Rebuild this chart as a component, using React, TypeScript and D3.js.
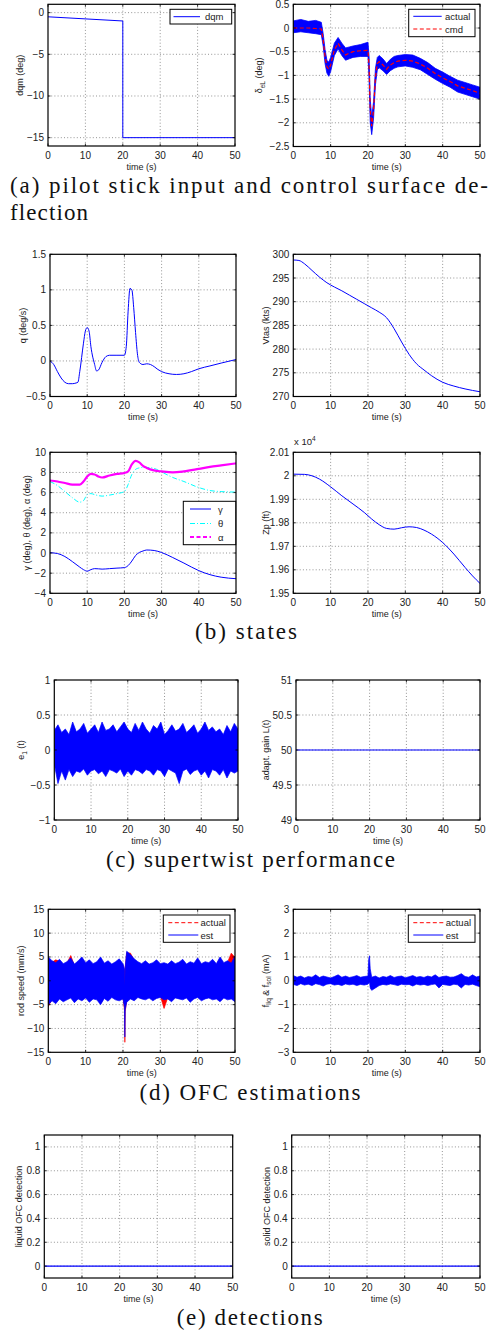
import React from "react";
import * as d3 from "d3";

// ---- shared axis data ----
const timeTicks = [0, 10, 20, 30, 40, 50];

// (a) pilot stick input
const dqmT = [0, 20, 20, 50];
const dqmV = [-0.5, -1.0, -15, -15];

// (a) control surface deflection (cmd + envelope of noisy actual)
const deltaT = [0, 2, 4, 6, 7.5, 8, 8.5, 9, 9.5, 10, 11, 12, 13, 14, 15, 16, 18, 20, 20.3, 20.6, 21, 21.5, 22, 22.5, 23, 24, 25, 26, 27, 28, 30, 32, 34, 36, 38, 40, 42, 44, 46, 48, 50];
const deltaCmd = [0, 0, 0, -0.01, -0.02, -0.25, -0.6, -0.82, -0.87, -0.78, -0.46, -0.32, -0.46, -0.57, -0.53, -0.5, -0.48, -0.47, -0.82, -1.73, -2.07, -1.73, -1.03, -0.75, -0.71, -0.78, -0.87, -0.78, -0.73, -0.7, -0.68, -0.7, -0.76, -0.85, -0.96, -1.05, -1.13, -1.22, -1.27, -1.32, -1.38];
const deltaActHi = [0.15, 0.18, 0.14, 0.16, 0.12, -0.12, -0.45, -0.68, -0.72, -0.62, -0.32, -0.2, -0.32, -0.42, -0.4, -0.38, -0.35, -0.3, -0.6, -1.5, -1.88, -1.55, -0.85, -0.62, -0.58, -0.65, -0.75, -0.66, -0.6, -0.58, -0.56, -0.57, -0.64, -0.73, -0.85, -0.93, -1.02, -1.1, -1.15, -1.2, -1.25];
const deltaActLo = [-0.1, -0.08, -0.1, -0.12, -0.14, -0.38, -0.75, -0.95, -1.02, -0.92, -0.58, -0.44, -0.58, -0.68, -0.65, -0.62, -0.6, -0.6, -1.1, -2.0, -2.25, -1.9, -1.2, -0.88, -0.84, -0.9, -0.98, -0.9, -0.85, -0.82, -0.8, -0.83, -0.88, -0.98, -1.08, -1.17, -1.25, -1.35, -1.4, -1.45, -1.5];

// (b) states
const qT = [0, 1, 2, 3, 4, 5, 6, 7, 7.5, 8, 9, 9.5, 10, 10.5, 11, 12, 12.5, 13, 14, 15, 16, 18, 20, 20.5, 21, 21.5, 22, 22.5, 23, 23.5, 24, 25, 26, 27, 28, 29, 30, 32, 34, 36, 38, 40, 43, 46, 50];
const qV = [0, -0.05, -0.15, -0.24, -0.3, -0.32, -0.32, -0.31, -0.3, -0.15, 0.25, 0.42, 0.47, 0.42, 0.2, -0.05, -0.14, -0.13, -0.02, 0.06, 0.08, 0.08, 0.08, 0.2, 0.7, 1.02, 1.0, 0.75, 0.4, 0.1, -0.02, -0.05, -0.04, -0.05, -0.08, -0.12, -0.15, -0.18, -0.19, -0.18, -0.15, -0.11, -0.07, -0.03, 0.02];

const vtasT = [0, 1.5, 3, 5, 7, 9, 11, 13, 15, 17, 19, 21, 23, 25, 27, 29, 31, 33, 35, 37, 40, 43, 46, 50];
const vtasV = [298.8, 298.7, 298.0, 296.6, 295.2, 294.0, 293.1, 292.3, 291.4, 290.5, 289.6, 288.7, 287.8, 286.6, 284.3, 281.5, 278.9, 276.9, 275.6, 274.4, 273.0, 272.2, 271.6, 271.0];

const angT = [0, 2, 4, 6, 8, 9, 10, 11, 12, 13, 14, 16, 18, 20, 21, 22, 23, 24, 25, 26, 28, 30, 33, 36, 40, 43, 46, 50];
const alphaV = [7.2, 7.1, 6.95, 6.8, 6.8, 7.1, 7.6, 7.85, 7.8, 7.6, 7.5, 7.7, 7.85, 7.95, 8.1, 8.8, 9.15, 9.0, 8.65, 8.45, 8.2, 8.1, 8.0, 8.1, 8.35, 8.55, 8.7, 8.9];
const thetaV = [7.1, 6.7, 6.1, 5.5, 5.05, 5.2, 5.8, 5.9, 5.8, 5.7, 5.65, 5.75, 5.9, 6.1, 6.8, 7.8, 8.3, 8.45, 8.5, 8.5, 8.4, 8.05, 7.5, 7.1, 6.5, 6.2, 6.1, 6.05];
const gammaV = [0.03, -0.05, -0.35, -0.85, -1.4, -1.65, -1.8, -1.65, -1.55, -1.57, -1.6, -1.55, -1.5, -1.45, -1.25, -0.8, -0.25, 0.05, 0.2, 0.3, 0.25, 0.05, -0.45, -1.0, -1.75, -2.15, -2.4, -2.55];

const zpT = [0, 3, 5, 7, 10, 13, 16, 19, 21, 23, 25, 27, 29, 31, 33, 35, 37, 40, 43, 46, 48, 50];
const zpV = [20007, 20006, 20000, 19986, 19953, 19915, 19880, 19844, 19816, 19792, 19776, 19773, 19779, 19783, 19780, 19769, 19752, 19716, 19667, 19610, 19574, 19542];
const zpTicks = [19500, 19600, 19700, 19800, 19900, 20000, 20100];
const zpTickLabels = ["1.95", "1.96", "1.97", "1.98", "1.99", "2", "2.01"];

// (c) supertwist: envelope of e1 noise, sampled every second
const e1T = d3.range(0, 51);
const e1Hi = [0.28, 0.36, 0.25, 0.3, 0.22, 0.4, 0.26, 0.3, 0.38, 0.24,
  0.3, 0.36, 0.25, 0.4, 0.28, 0.3, 0.36, 0.26, 0.33, 0.4,
  0.3, 0.25, 0.38, 0.28, 0.4, 0.3, 0.24, 0.35, 0.3, 0.4,
  0.22, 0.28, 0.36, 0.27, 0.3, 0.38, 0.25, 0.3, 0.36, 0.24,
  0.3, 0.4, 0.28, 0.33, 0.26, 0.3, 0.22, 0.35, 0.26, 0.38, 0.3];
const e1Lo = [-0.2, -0.48, -0.3, -0.43, -0.28, -0.38, -0.3, -0.32, -0.27, -0.36,
  -0.3, -0.28, -0.34, -0.3, -0.38, -0.28, -0.3, -0.33, -0.27, -0.38,
  -0.3, -0.36, -0.28, -0.3, -0.34, -0.28, -0.3, -0.36, -0.28, -0.3,
  -0.38, -0.27, -0.3, -0.33, -0.48, -0.3, -0.27, -0.35, -0.3, -0.28,
  -0.36, -0.3, -0.4, -0.28, -0.3, -0.36, -0.28, -0.4, -0.3, -0.33, -0.3];
const gainT = [0, 50];
const gainV = [50, 50];

// (d) OFC estimations
const rodT = d3.range(0, 21).concat([20.4, 20.5, 20.6], d3.range(21, 51));
const rodEstHi = [5.0, 4.2, 3.8, 4.5, 3.6, 4.0, 4.8, 3.5, 4.2, 5.0, 3.8, 4.4, 3.6, 4.0, 5.0, 3.7, 4.2, 3.5, 4.0, 4.6, 3.6,
  2.5, -1.0, 3.0,
  6.2, 5.5, 4.6, 4.0, 3.6, 4.2, 3.5, 3.8, 4.4, 3.6, 3.8, 3.5, 4.2, 3.6, 3.9, 4.5, 3.5, 4.0, 3.7, 4.8, 3.6, 4.0, 3.8, 4.5, 3.6, 5.0, 3.8, 4.2, 3.7, 5.2];
const rodEstLo = [-5.0, -4.2, -4.8, -3.8, -4.4, -4.0, -3.6, -4.6, -3.8, -4.2, -3.6, -4.5, -3.8, -4.0, -5.0, -3.7, -4.3, -3.5, -4.0, -4.2, -3.8,
  -5.5, -11.8, -6.0,
  -4.5, -3.8, -4.2, -3.5, -3.8, -4.0, -3.6, -4.2, -3.7, -3.5, -4.0, -3.8, -4.4, -3.6, -3.8, -4.0, -3.6, -4.5, -3.8, -3.5, -4.2, -3.8, -3.6, -4.0, -3.8, -4.4, -3.6, -4.0, -3.8, -4.4];
const rodActHi = [4.6, 3.9, 4.4, 4.1, 3.3, 3.7, 5.3, 3.2, 3.9, 4.7, 3.5, 4.1, 3.3, 3.7, 4.7, 3.4, 3.9, 3.2, 3.7, 4.3, 3.3,
  2.2, -1.3, 2.7,
  5.9, 5.8, 4.3, 3.7, 3.3, 3.9, 3.2, 3.5, 4.1, 3.3, 3.5, 3.2, 3.9, 3.3, 3.6, 4.2, 3.2, 3.7, 3.4, 4.5, 3.3, 3.7, 3.5, 4.2, 3.3, 4.7, 3.5, 3.9, 5.8, 4.9];
const rodActLo = [-5.4, -3.9, -4.5, -3.5, -4.1, -3.7, -3.3, -4.3, -3.5, -3.9, -3.3, -4.2, -3.5, -3.7, -4.7, -3.4, -4.0, -3.2, -3.7, -3.9, -3.5,
  -6.0, -12.9, -6.4,
  -4.2, -3.5, -3.9, -3.2, -3.5, -3.7, -3.3, -3.9, -3.4, -3.2, -5.8, -3.5, -4.1, -3.3, -3.5, -3.7, -3.3, -4.2, -3.5, -3.2, -3.9, -3.5, -3.3, -3.7, -3.5, -4.1, -3.3, -3.7, -3.5, -4.1];

const fT = d3.range(0, 21).concat([20.2, 20.4, 20.6], d3.range(21, 51));
const fHi = [0.22, 0.15, 0.2, 0.12, 0.18, 0.15, 0.25, 0.14, 0.2, 0.16, 0.12, 0.18, 0.25, 0.15, 0.2, 0.14, 0.17, 0.22, 0.15, 0.18, 0.2,
  0.9, 1.05, 0.5,
  0.15, 0.2, 0.12, 0.18, 0.15, 0.22, 0.14, 0.18, 0.2, 0.13, 0.17, 0.22, 0.15, 0.18, 0.14, 0.2, 0.16, 0.25, 0.14, 0.18, 0.2, 0.15, 0.16, 0.22, 0.3, 0.18, 0.15, 0.25, 0.16, 0.2];
const fLo = [-0.15, -0.2, -0.12, -0.18, -0.14, -0.2, -0.12, -0.16, -0.22, -0.14, -0.12, -0.18, -0.15, -0.2, -0.13, -0.17, -0.14, -0.2, -0.15, -0.18, -0.14,
  -0.1, -0.05, -0.3,
  -0.4, -0.3, -0.2, -0.15, -0.18, -0.13, -0.16, -0.2, -0.14, -0.17, -0.15, -0.22, -0.14, -0.18, -0.15, -0.2, -0.16, -0.13, -0.3, -0.15, -0.18, -0.2, -0.14, -0.17, -0.3, -0.15, -0.18, -0.14, -0.2, -0.25];

// (e) detections
const detT = [0, 50];
const liqDet = [0, 0];
const solDet = [0, 0];
const detTicks = [0, 0.2, 0.4, 0.6, 0.8, 1];

const SANS = "'Liberation Sans', Arial, Helvetica, sans-serif";
const SERIF = "'Liberation Serif', 'Times New Roman', serif";
const BLUE = "#0000ff";
const RED = "#ff0000";

type Box = { x0: number; x1: number; y0: number; y1: number };
type Sc = d3.ScaleLinear<number, number>;

const fmt = (v: number) => String(v).replace("-", "\u2212");

function linePath(ts: number[], vs: number[], x: Sc, y: Sc, curve: d3.CurveFactory = d3.curveLinear) {
  return d3.line<number>().x((_, i) => x(ts[i])).y((d) => y(d)).curve(curve)(vs) || "";
}
function bandPath(ts: number[], lo: number[], hi: number[], x: Sc, y: Sc) {
  return d3.area<number>().x((_, i) => x(ts[i])).y0((_, i) => y(lo[i])).y1((d) => y(d))(hi) || "";
}

function Panel(props: {
  id: string;
  box: Box;
  yDomain: [number, number];
  yTicks: number[];
  yTickLabels?: string[];
  yLabel: React.ReactNode;
  yLabelX: number;
  children: (x: Sc, y: Sc) => React.ReactNode;
  overlay?: React.ReactNode;
}) {
  const { id, box, yDomain, yTicks, yTickLabels, yLabel, yLabelX, children, overlay } = props;
  const x = d3.scaleLinear().domain([0, 50]).range([box.x0, box.x1]);
  const y = d3.scaleLinear().domain(yDomain).range([box.y1, box.y0]);
  const w = box.x1 - box.x0;
  const h = box.y1 - box.y0;
  const midX = (box.x0 + box.x1) / 2;
  const midY = (box.y0 + box.y1) / 2;
  const inner = (v: number, a: number, b: number) => v > Math.min(a, b) + 0.8 && v < Math.max(a, b) - 0.8;
  return (
    <g>
      <defs>
        <clipPath id={id}>
          <rect x={box.x0} y={box.y0} width={w} height={h} />
        </clipPath>
      </defs>
      <rect x={box.x0} y={box.y0} width={w} height={h} fill="#fff" />
      {timeTicks.filter((t) => inner(x(t), box.x0, box.x1)).map((t) => (
        <line key={"gx" + t} x1={x(t)} x2={x(t)} y1={box.y0} y2={box.y1} stroke="#7a7a7a" strokeWidth={0.8} strokeDasharray="1,2.2" />
      ))}
      {yTicks.filter((v) => inner(y(v), box.y0, box.y1)).map((v) => (
        <line key={"gy" + v} x1={box.x0} x2={box.x1} y1={y(v)} y2={y(v)} stroke="#7a7a7a" strokeWidth={0.8} strokeDasharray="1,2.2" />
      ))}
      <g clipPath={`url(#${id})`}>{children(x, y)}</g>
      {timeTicks.map((t) => (
        <g key={"tx" + t}>
          <line x1={x(t)} x2={x(t)} y1={box.y1} y2={box.y1 - 2.5} stroke="#000" strokeWidth={0.8} />
          <line x1={x(t)} x2={x(t)} y1={box.y0} y2={box.y0 + 2.5} stroke="#000" strokeWidth={0.8} />
          <text x={x(t)} y={box.y1 + 12.5} fontSize={10} fontFamily={SANS} textAnchor="middle" fill="#222">{t}</text>
        </g>
      ))}
      {yTicks.map((v, i) => (
        <g key={"ty" + v}>
          <line x1={box.x0} x2={box.x0 + 2.5} y1={y(v)} y2={y(v)} stroke="#000" strokeWidth={0.8} />
          <line x1={box.x1} x2={box.x1 - 2.5} y1={y(v)} y2={y(v)} stroke="#000" strokeWidth={0.8} />
          <text x={box.x0 - 4} y={y(v) + 3.5} fontSize={10} fontFamily={SANS} textAnchor="end" fill="#222">
            {yTickLabels ? yTickLabels[i] : fmt(v)}
          </text>
        </g>
      ))}
      <rect x={box.x0} y={box.y0} width={w} height={h} fill="none" stroke="#000" strokeWidth={1.2} />
      {overlay}
      <text x={midX} y={box.y1 + 23.5} fontSize={9} fontFamily={SANS} textAnchor="middle" fill="#222">time (s)</text>
      <text transform={`translate(${yLabelX},${midY}) rotate(-90)`} fontSize={9} fontFamily={SANS} textAnchor="middle" fill="#222">
        {yLabel}
      </text>
    </g>
  );
}

type LegendItem = { label: React.ReactNode; color: string; dash?: string; width?: number };
function Legend({ box, items, lineX0, lineX1, textX, rowY }: { box: Box; items: LegendItem[]; lineX0: number; lineX1: number; textX: number; rowY: number[] }) {
  return (
    <g>
      <rect x={box.x0} y={box.y0} width={box.x1 - box.x0} height={box.y1 - box.y0} fill="#fff" stroke="#000" strokeWidth={1} />
      {items.map((it, i) => (
        <g key={i}>
          <line x1={lineX0} x2={lineX1} y1={rowY[i]} y2={rowY[i]} stroke={it.color} strokeWidth={it.width || 1} strokeDasharray={it.dash} />
          <text x={textX} y={rowY[i] + 3.5} fontSize={9.5} fontFamily={SANS} fill="#222">{it.label}</text>
        </g>
      ))}
    </g>
  );
}

function Caption({ x, y, w, anchor, children }: { x: number; y: number; w: number; anchor: "start" | "middle"; children: string }) {
  return (
    <text x={x} y={y} fontSize={23} fontFamily={SERIF} textAnchor={anchor} textLength={w} lengthAdjust="spacing" fill="#111">
      {children}
    </text>
  );
}

export default function App() {
  const boxA1 = { x0: 48, x1: 235, y0: 4.3, y1: 146 };
  const boxA2 = { x0: 293.3, x1: 480, y0: 4.3, y1: 146.5 };
  const boxB1 = { x0: 50, x1: 236, y0: 254.3, y1: 396.5 };
  const boxB2 = { x0: 293.3, x1: 480, y0: 254.3, y1: 396.5 };
  const boxB3 = { x0: 50, x1: 236, y0: 452.3, y1: 593.3 };
  const boxB4 = { x0: 293.3, x1: 480, y0: 452.3, y1: 593.3 };
  const boxC1 = { x0: 54.3, x1: 238, y0: 680, y1: 820 };
  const boxC2 = { x0: 296, x1: 480, y0: 680, y1: 820 };
  const boxD1 = { x0: 48.3, x1: 235, y0: 909.3, y1: 1052.3 };
  const boxD2 = { x0: 293.3, x1: 480, y0: 909.3, y1: 1052.3 };
  const boxE1 = { x0: 44.3, x1: 232.7, y0: 1135, y1: 1278 };
  const boxE2 = { x0: 291.7, x1: 480, y0: 1135, y1: 1278 };

  return (
    <div style={{ position: "absolute", left: 0, top: 0, background: "#fff" }}>
      <svg width={494} height={1331} viewBox="0 0 494 1331">
        <rect width={494} height={1331} fill="#fff" />

        {/* (a) */}
        <Panel id="cA1" box={boxA1} yDomain={[-16, 1]} yTicks={[-15, -10, -5, 0]} yLabel="dqm (deg)" yLabelX={22.5}
          overlay={<Legend box={{ x0: 170, x1: 231.7, y0: 9.3, y1: 24 }} items={[{ label: "dqm", color: BLUE }]} lineX0={173.5} lineX1={200} textX={205} rowY={[16.7]} />}>
          {(x, y) => <path d={linePath(dqmT, dqmV, x, y)} fill="none" stroke={BLUE} strokeWidth={1} />}
        </Panel>
        <Panel id="cA2" box={boxA2} yDomain={[-2.5, 0.5]} yTicks={[-2.5, -2, -1.5, -1, -0.5, 0, 0.5]}
          yLabel={<><tspan>δ</tspan><tspan dy={2.5} fontSize={6.5}>eL</tspan><tspan dy={-2.5}> (deg)</tspan></>} yLabelX={262}
          overlay={<Legend box={{ x0: 408.7, x1: 475, y0: 9.3, y1: 36.7 }} items={[{ label: "actual", color: BLUE }, { label: "cmd", color: RED, dash: "4,2.5" }]} lineX0={413.3} lineX1={441.7} textX={445} rowY={[16.3, 29]} />}>
          {(x, y) => (
            <g>
              <path d={bandPath(deltaT, deltaActLo, deltaActHi, x, y)} fill={BLUE} stroke={BLUE} strokeWidth={0.8} />
              <path d={linePath(deltaT, deltaCmd, x, y)} fill="none" stroke={RED} strokeWidth={1.2} strokeDasharray="4,2.5" />
            </g>
          )}
        </Panel>
        <Caption x={10} y={193} w={478} anchor="start">(a) pilot stick input and control surface de-</Caption>
        <Caption x={10} y={219.5} w={78} anchor="start">flection</Caption>

        {/* (b) */}
        <Panel id="cB1" box={boxB1} yDomain={[-0.5, 1.5]} yTicks={[-0.5, 0, 0.5, 1, 1.5]} yLabel="q (deg/s)" yLabelX={25.5}>
          {(x, y) => <path d={linePath(qT, qV, x, y, d3.curveMonotoneX)} fill="none" stroke={BLUE} strokeWidth={1} />}
        </Panel>
        <Panel id="cB2" box={boxB2} yDomain={[270, 300]} yTicks={[270, 275, 280, 285, 290, 295, 300]} yLabel="Vtas (kts)" yLabelX={268.5}>
          {(x, y) => <path d={linePath(vtasT, vtasV, x, y, d3.curveMonotoneX)} fill="none" stroke={BLUE} strokeWidth={1} />}
        </Panel>
        <Panel id="cB3" box={boxB3} yDomain={[-4, 10]} yTicks={[-4, -2, 0, 2, 4, 6, 8, 10]} yLabel="γ (deg), θ (deg), α (deg)" yLabelX={29.5}
          overlay={<Legend box={{ x0: 183.3, x1: 235.7, y0: 501.3, y1: 544.7 }}
            items={[{ label: "γ", color: BLUE }, { label: "θ", color: "#00ffff", dash: "5,2,1,2" }, { label: "α", color: "#ff00ff", dash: "4,2.5", width: 2 }]}
            lineX0={190} lineX1={211} textX={218} rowY={[509, 523.5, 537]} />}>
          {(x, y) => (
            <g>
              <path d={linePath(angT, gammaV, x, y, d3.curveMonotoneX)} fill="none" stroke={BLUE} strokeWidth={1} />
              <path d={linePath(angT, thetaV, x, y, d3.curveMonotoneX)} fill="none" stroke="#00ffff" strokeWidth={1} strokeDasharray="5,2,1,2" />
              <path d={linePath(angT, alphaV, x, y, d3.curveMonotoneX)} fill="none" stroke="#ff00ff" strokeWidth={2.2} />
            </g>
          )}
        </Panel>
        <Panel id="cB4" box={boxB4} yDomain={[19500, 20100]} yTicks={zpTicks} yTickLabels={zpTickLabels} yLabel="Zp (ft)" yLabelX={268.5}
          overlay={<text x={294} y={445} fontSize={9.5} fontFamily={SANS} fill="#222">x 10<tspan dy={-4} fontSize={6.5}>4</tspan></text>}>
          {(x, y) => <path d={linePath(zpT, zpV, x, y, d3.curveMonotoneX)} fill="none" stroke={BLUE} strokeWidth={1} />}
        </Panel>
        <Caption x={246} y={638.5} w={102} anchor="middle">(b) states</Caption>

        {/* (c) */}
        <Panel id="cC1" box={boxC1} yDomain={[-1, 1]} yTicks={[-1, -0.5, 0, 0.5, 1]}
          yLabel={<><tspan>e</tspan><tspan dy={2.5} fontSize={6.5}>1</tspan><tspan dy={-2.5}> (t)</tspan></>} yLabelX={24}>
          {(x, y) => <path d={bandPath(e1T, e1Lo, e1Hi, x, y)} fill={BLUE} stroke={BLUE} strokeWidth={0.7} />}
        </Panel>
        <Panel id="cC2" box={boxC2} yDomain={[49, 51]} yTicks={[49, 49.5, 50, 50.5, 51]} yLabel="adapt. gain L(t)" yLabelX={268.5}>
          {(x, y) => <path d={linePath(gainT, gainV, x, y)} fill="none" stroke={BLUE} strokeWidth={1.2} />}
        </Panel>
        <Caption x={250.5} y={866.5} w={289} anchor="middle">(c) supertwist performance</Caption>

        {/* (d) */}
        <Panel id="cD1" box={boxD1} yDomain={[-15, 15]} yTicks={[-15, -10, -5, 0, 5, 10, 15]} yLabel="rod speed (mm/s)" yLabelX={24}
          overlay={<Legend box={{ x0: 163.3, x1: 230, y0: 915, y1: 942.3 }} items={[{ label: "actual", color: RED, dash: "4,2.5" }, { label: "est", color: BLUE }]} lineX0={168.3} lineX1={198.3} textX={200.5} rowY={[922.7, 935]} />}>
          {(x, y) => (
            <g>
              <path d={bandPath(rodT, rodActLo, rodActHi, x, y)} fill={RED} stroke={RED} strokeWidth={0.7} />
              <path d={bandPath(rodT, rodEstLo, rodEstHi, x, y)} fill={BLUE} stroke={BLUE} strokeWidth={0.7} />
            </g>
          )}
        </Panel>
        <Panel id="cD2" box={boxD2} yDomain={[-3, 3]} yTicks={[-3, -2, -1, 0, 1, 2, 3]}
          yLabel={<><tspan>f</tspan><tspan dy={2.5} fontSize={6.5}>liq</tspan><tspan dy={-2.5}> &amp; f</tspan><tspan dy={2.5} fontSize={6.5}>sol</tspan><tspan dy={-2.5}> (mA)</tspan></>} yLabelX={268.5}
          overlay={<Legend box={{ x0: 408.3, x1: 475, y0: 915, y1: 942.3 }} items={[{ label: "actual", color: RED, dash: "4,2.5" }, { label: "est", color: BLUE }]} lineX0={413.3} lineX1={443.3} textX={445.7} rowY={[922.7, 935]} />}>
          {(x, y) => <path d={bandPath(fT, fLo, fHi, x, y)} fill={BLUE} stroke={BLUE} strokeWidth={0.7} />}
        </Panel>
        <Caption x={250} y={1100} w={221} anchor="middle">(d) OFC estimations</Caption>

        {/* (e) */}
        <Panel id="cE1" box={boxE1} yDomain={[-0.1, 1.1]} yTicks={detTicks} yLabel="liquid OFC detection" yLabelX={22}>
          {(x, y) => <path d={linePath(detT, liqDet, x, y)} fill="none" stroke={BLUE} strokeWidth={1.2} />}
        </Panel>
        <Panel id="cE2" box={boxE2} yDomain={[-0.1, 1.1]} yTicks={detTicks} yLabel="solid OFC detection" yLabelX={270}>
          {(x, y) => <path d={linePath(detT, solDet, x, y)} fill="none" stroke={BLUE} strokeWidth={1.2} />}
        </Panel>
        <Caption x={249.7} y={1325} w={146} anchor="middle">(e) detections</Caption>
      </svg>
    </div>
  );
}
